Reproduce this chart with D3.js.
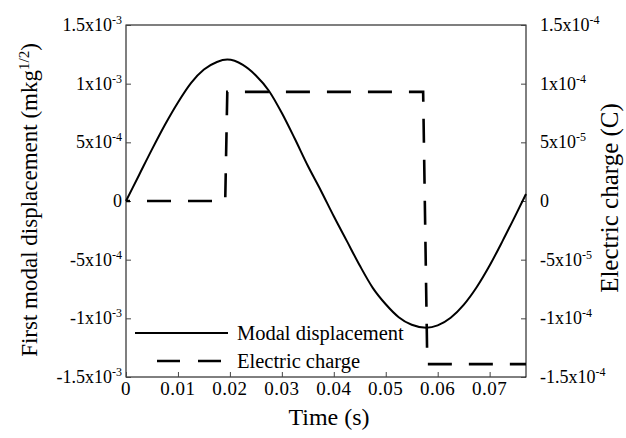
<!DOCTYPE html>
<html>
<head>
<meta charset="utf-8">
<script src="https://cdn.jsdelivr.net/npm/d3@7"></script>
<style>
  body { margin: 0; background: #fff; }
  svg { display: block; font-family: "Liberation Serif", "Times New Roman", serif; }
</style>
</head>
<body>
<div id="chart"></div>
<script>
// Modal displacement (mkg^1/2)
const dispTime = [0, 0.0025, 0.005, 0.0075, 0.01, 0.0125, 0.015, 0.0175, 0.0195,
  0.0225, 0.025, 0.0275, 0.03, 0.0325, 0.035, 0.0375, 0.04, 0.0425, 0.045, 0.0475,
  0.05, 0.0525, 0.055, 0.0578, 0.06, 0.0625, 0.065, 0.0675, 0.07, 0.0725, 0.075, 0.077];
const dispValue = [0, 2.2e-4, 4.4e-4, 6.5e-4, 8.4e-4, 1.005e-3, 1.12e-3, 1.185e-3, 1.205e-3,
  1.16e-3, 1.07e-3, 9.4e-4, 7.5e-4, 5.3e-4, 3.0e-4, 9e-5, -1.3e-4, -3.4e-4, -5.5e-4, -7.4e-4,
  -8.8e-4, -9.9e-4, -1.055e-3, -1.08e-3, -1.06e-3, -9.95e-4, -8.85e-4, -7.35e-4, -5.5e-4, -3.4e-4, -1.2e-4, 6e-5];

// Electric charge (C), piecewise constant
const chargeTime = [0, 0.0191, 0.0195, 0.0572, 0.058, 0.077];
const chargeValue = [0, 0, 9.3e-5, 9.3e-5, -1.39e-4, -1.39e-4];

const xTicks = [0, 0.01, 0.02, 0.03, 0.04, 0.05, 0.06, 0.07];
const leftTicks = [-1.5e-3, -1e-3, -5e-4, 0, 5e-4, 1e-3, 1.5e-3];
const rightTicks = [-1.5e-4, -1e-4, -5e-5, 0, 5e-5, 1e-4, 1.5e-4];

const legendLabels = ['Modal displacement', 'Electric charge'];

const W = 626, H = 438;
const plot = { left: 126, right: 526, top: 25, bottom: 377 };

const svg = d3.select('#chart').append('svg')
  .attr('width', W).attr('height', H);

const x = d3.scaleLinear().domain([0, 0.077]).range([plot.left, plot.right]);
const yL = d3.scaleLinear().domain([-1.5e-3, 1.5e-3]).range([plot.bottom, plot.top]);
const yR = d3.scaleLinear().domain([-1.5e-4, 1.5e-4]).range([plot.bottom, plot.top]);

// "1.5x10^-3" style label with a superscript exponent
function sciLabel(sel, v) {
  if (v === 0) { sel.text('0'); return; }
  const [m, e] = v.toExponential().split('e');
  sel.append('tspan').text(String(+m) + 'x10');
  sel.append('tspan').attr('dy', -7).attr('font-size', 12).text(String(+e));
}

// Frame
svg.append('rect')
  .attr('x', plot.left).attr('y', plot.top)
  .attr('width', plot.right - plot.left).attr('height', plot.bottom - plot.top)
  .attr('fill', 'none').attr('stroke', '#000').attr('stroke-width', 1);

// Axes with inward ticks
const axisLeft = svg.append('g').attr('transform', `translate(${plot.left},0)`)
  .call(d3.axisRight(yL).tickValues(leftTicks).tickSize(5).tickFormat(''));
const axisRight = svg.append('g').attr('transform', `translate(${plot.right},0)`)
  .call(d3.axisLeft(yR).tickValues(rightTicks).tickSize(5).tickFormat(''));
const axisBottom = svg.append('g').attr('transform', `translate(0,${plot.bottom})`)
  .call(d3.axisTop(x).tickValues(xTicks).tickSize(5).tickFormat(''));
[axisLeft, axisRight, axisBottom].forEach(a => {
  a.select('.domain').remove();
  a.selectAll('line').attr('stroke', '#444');
});

// Tick labels
svg.append('g').selectAll('text').data(xTicks).join('text')
  .attr('x', d => x(d)).attr('y', plot.bottom + 18)
  .attr('text-anchor', 'middle').attr('font-size', 19)
  .attr('letter-spacing', 0.5)
  .text(d => String(d));

svg.append('g').selectAll('text').data(leftTicks).join('text')
  .attr('x', plot.left - 4).attr('y', d => yL(d) + 6)
  .attr('text-anchor', 'end').attr('font-size', 18)
  .each(function (d) { sciLabel(d3.select(this), d); });

svg.append('g').selectAll('text').data(rightTicks).join('text')
  .attr('x', plot.right + 14).attr('y', d => yR(d) + 6)
  .attr('text-anchor', 'start').attr('font-size', 18)
  .each(function (d) { sciLabel(d3.select(this), d); });

// Axis titles
svg.append('text')
  .attr('x', 329).attr('y', 425)
  .attr('text-anchor', 'middle').attr('font-size', 24)
  .text('Time (s)');

const lt = svg.append('text')
  .attr('transform', 'translate(37,200) rotate(-90)')
  .attr('text-anchor', 'middle').attr('font-size', 23);
lt.append('tspan').text('First modal displacement (mkg');
lt.append('tspan').attr('dy', -8).attr('font-size', 15).text('1/2');
lt.append('tspan').attr('dy', 8).text(')');

svg.append('text')
  .attr('transform', 'translate(618,198) rotate(-90)')
  .attr('text-anchor', 'middle').attr('font-size', 25)
  .text('Electric charge (C)');

// Curves
const dispLine = d3.line()
  .x(i => x(dispTime[i])).y(i => yL(dispValue[i]))
  .curve(d3.curveMonotoneX);
svg.append('path')
  .attr('d', dispLine(d3.range(dispTime.length)))
  .attr('fill', 'none').attr('stroke', '#000').attr('stroke-width', 2);

const chargeLine = d3.line()
  .x(i => x(chargeTime[i])).y(i => yR(chargeValue[i]));
svg.append('path')
  .attr('d', chargeLine(d3.range(chargeTime.length)))
  .attr('fill', 'none').attr('stroke', '#000').attr('stroke-width', 2.6)
  .attr('stroke-dasharray', '24,17').attr('stroke-dashoffset', 20);

// Legend
const legend = svg.append('g');
legend.append('line')
  .attr('x1', 135).attr('x2', 228).attr('y1', 333).attr('y2', 333)
  .attr('stroke', '#000').attr('stroke-width', 2);
legend.append('line')
  .attr('x1', 157).attr('x2', 223).attr('y1', 361).attr('y2', 361)
  .attr('stroke', '#000').attr('stroke-width', 2.6)
  .attr('stroke-dasharray', '23,18');
legend.selectAll('text').data(legendLabels).join('text')
  .attr('x', 237).attr('y', (d, i) => 340 + i * 28)
  .attr('font-size', 20.5)
  .text(d => d);
</script>
</body>
</html>
